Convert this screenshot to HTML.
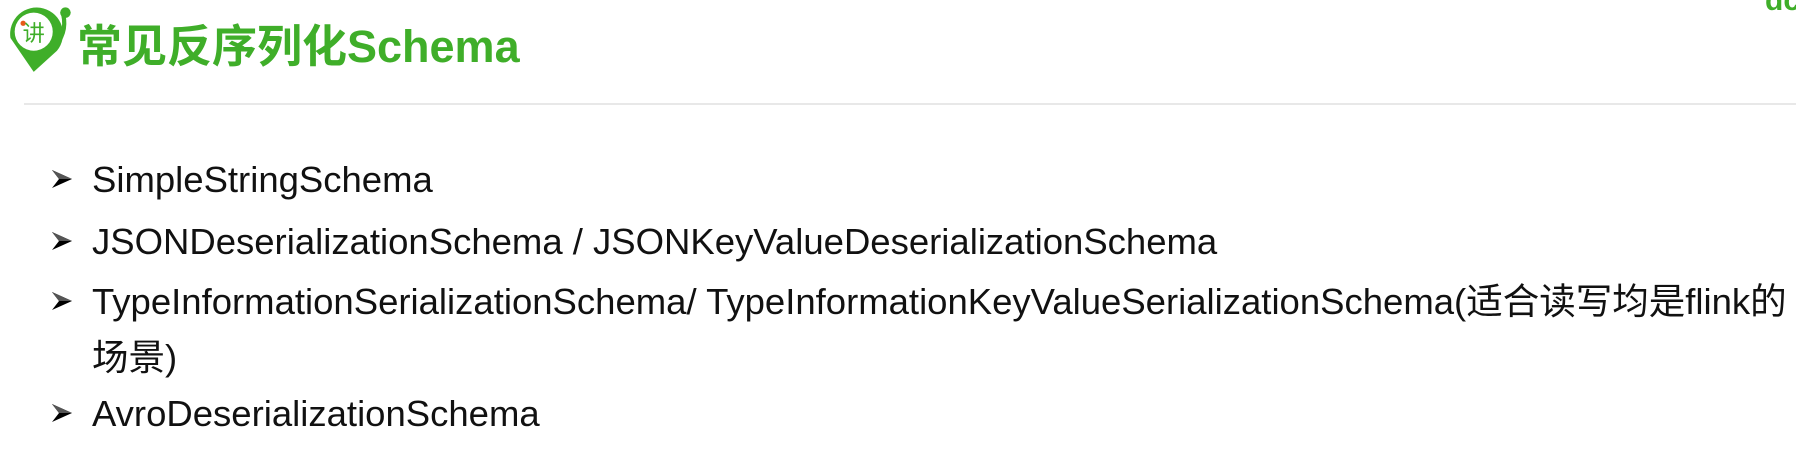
<!DOCTYPE html>
<html><head><meta charset="utf-8"><style>
body{margin:0;width:1796px;height:464px;background:#fff;position:relative;overflow:hidden;font-family:"Liberation Sans","Noto Sans CJK SC",sans-serif}
.t{position:absolute;left:77px;top:10px;font-size:45px;color:#3fae29;font-weight:bold;white-space:nowrap}
.hr{position:absolute;left:24px;top:103px;width:1772px;height:2px;background:#e8e8e8}
.li{position:absolute;left:92px;font-size:36.5px;color:#111;white-space:nowrap;line-height:40px}
.b{position:absolute;left:51px}
</style></head><body>
<svg style="position:absolute;left:2px;top:2px" width="74" height="70" viewBox="0 0 70 66">
<path d="M8 34 A25 25 0 1 1 52 46 L30 66 Z" fill="#3fae29"/>
<circle cx="30" cy="28" r="18" fill="#fff"/>
<circle cx="60" cy="10" r="5" fill="#3fae29"/>
<path d="M58 12 Q62 30 48 44" stroke="#3fae29" stroke-width="4" fill="none"/>
<circle cx="20" cy="20" r="2.5" fill="#e65a1a"/>
<text x="30" y="37" font-size="21" fill="#3fae29" text-anchor="middle" font-family="Noto Sans CJK SC,sans-serif">讲</text>
</svg>
<div class="t">常见反序列化Schema</div>
<div style="position:absolute;left:1765px;top:-16px;font-size:30px;color:#3fae29;font-weight:bold">dc</div>
<div class="hr"></div>
<svg class="b" style="top:169px" width="22" height="20" viewBox="0 0 22 20"><path d="M1 1 L21 10 L1 19 L8 10 Z" fill="#000"/><path d="M1 1 L21 10 L8 10 Z" fill="#555"/></svg>
<div class="li" style="top:160px">SimpleStringSchema</div>
<svg class="b" style="top:231px" width="22" height="20" viewBox="0 0 22 20"><path d="M1 1 L21 10 L1 19 L8 10 Z" fill="#000"/><path d="M1 1 L21 10 L8 10 Z" fill="#555"/></svg>
<div class="li" style="top:222px">JSONDeserializationSchema / JSONKeyValueDeserializationSchema</div>
<svg class="b" style="top:291px" width="22" height="20" viewBox="0 0 22 20"><path d="M1 1 L21 10 L1 19 L8 10 Z" fill="#000"/><path d="M1 1 L21 10 L8 10 Z" fill="#555"/></svg>
<div class="li" style="top:282px">TypeInformationSerializationSchema/ TypeInformationKeyValueSerializationSchema(适合读写均是flink的</div>
<div class="li" style="top:338px">场景)</div>
<svg class="b" style="top:403px" width="22" height="20" viewBox="0 0 22 20"><path d="M1 1 L21 10 L1 19 L8 10 Z" fill="#000"/><path d="M1 1 L21 10 L8 10 Z" fill="#555"/></svg>
<div class="li" style="top:394px">AvroDeserializationSchema</div>
</body></html>
